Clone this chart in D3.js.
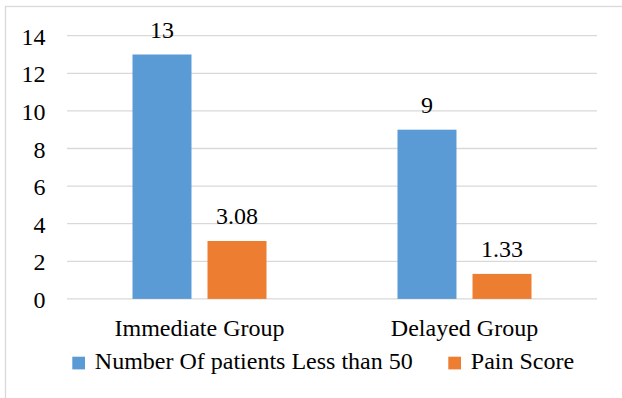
<!DOCTYPE html>
<html>
<head>
<meta charset="utf-8">
<script src="https://cdn.jsdelivr.net/npm/d3@7"></script>
<style>
  html, body { margin: 0; padding: 0; background: #fff; }
  svg { display: block; }
</style>
</head>
<body>
<svg id="chart" width="622" height="398"></svg>
<script>
// Chart data
const categories = ["Immediate Group", "Delayed Group"];
const seriesNames = ["Number Of patients Less than 50", "Pain Score"];
const patientsUnder50 = [13, 9];
const painScore = [3.08, 1.33];
const valueLabels = [["13", "9"], ["3.08", "1.33"]];
const yTicks = [0, 2, 4, 6, 8, 10, 12, 14];
const colors = ["#5B9BD5", "#ED7D31"];

const series = [patientsUnder50, painScore];
const FONT = '"Liberation Serif"';

const svg = d3.select("#chart");
const W = 622, H = 398;
const plot = { left: 67, right: 597, top: 35.7, bottom: 298.9 };

// Outer chart frame
svg.append("rect")
  .attr("x", 5.5).attr("y", 6.5)
  .attr("width", W + 20).attr("height", H + 20)
  .attr("fill", "#fff")
  .attr("stroke", "#d9d9d9").attr("stroke-width", 1.3);

const y = d3.scaleLinear().domain([0, 14]).range([plot.bottom, plot.top]);
const x0 = d3.scaleBand().domain(categories).range([plot.left, plot.right]).paddingInner(0).paddingOuter(0);
const x1 = d3.scaleBand().domain(d3.range(series.length))
  .range([x0.bandwidth() / 2 - 67, x0.bandwidth() / 2 + 67]).paddingInner(0.2136).paddingOuter(0);

// Horizontal gridlines
svg.append("g")
  .selectAll("line")
  .data(yTicks)
  .join("line")
  .attr("x1", plot.left).attr("x2", plot.right)
  .attr("y1", d => y(d)).attr("y2", d => y(d))
  .attr("stroke", "#d9d9d9").attr("stroke-width", 1.3);

// Y axis tick labels
const yAxis = d3.axisLeft(y).tickValues(yTicks).tickSize(0).tickPadding(0);
const gy = svg.append("g").attr("transform", "translate(45.5,0)").call(yAxis);
gy.select(".domain").remove();
gy.attr("font-family", null).attr("font-size", null);
gy.selectAll("text")
  .style("font-family", FONT)
  .style("font-size", "24px")
  .attr("fill", "#000")
  .attr("dy", "0.36em");

// Bars
const groups = svg.append("g")
  .selectAll("g")
  .data(categories)
  .join("g")
  .attr("transform", d => `translate(${x0(d)},0)`);

groups.selectAll("rect")
  .data((c, ci) => series.map((s, si) => ({ si, v: s[ci] })))
  .join("rect")
  .attr("x", d => x1(d.si))
  .attr("width", x1.bandwidth())
  .attr("y", d => y(d.v))
  .attr("height", d => y(0) - y(d.v))
  .attr("fill", d => colors[d.si]);

// Value labels
groups.selectAll("text.val")
  .data((c, ci) => series.map((s, si) => ({ si, v: s[ci], label: valueLabels[si][ci] })))
  .join("text")
  .attr("class", "val")
  .attr("x", d => x1(d.si) + x1.bandwidth() / 2)
  .attr("y", d => y(d.v) - 17)
  .attr("text-anchor", "middle")
  .style("font-family", FONT)
  .style("font-size", "24px")
  .attr("fill", "#000")
  .text(d => d.label);

// Category labels
const xAxis = d3.axisBottom(x0).tickSize(0).tickPadding(0);
const gx = svg.append("g").attr("transform", `translate(0,${plot.bottom})`).call(xAxis);
gx.select(".domain").remove();
gx.attr("font-family", null).attr("font-size", null);
gx.selectAll("text")
  .style("font-family", FONT)
  .style("font-size", "24px")
  .attr("fill", "#000")
  .attr("dy", null)
  .attr("y", 36.8);

// Legend
const legendItems = [
  { name: seriesNames[0], color: colors[0], x: 72.3 },
  { name: seriesNames[1], color: colors[1], x: 448.3 }
];
const legend = svg.append("g");
legendItems.forEach(item => {
  legend.append("rect")
    .attr("x", item.x).attr("y", 356.7)
    .attr("width", 12.7).attr("height", 12.7)
    .attr("fill", item.color);
  legend.append("text")
    .attr("x", item.x + 22.5).attr("y", 369.3)
    .style("font-family", FONT)
    .style("font-size", "24px")
    .attr("fill", "#000")
    .text(item.name);
});
</script>
</body>
</html>
